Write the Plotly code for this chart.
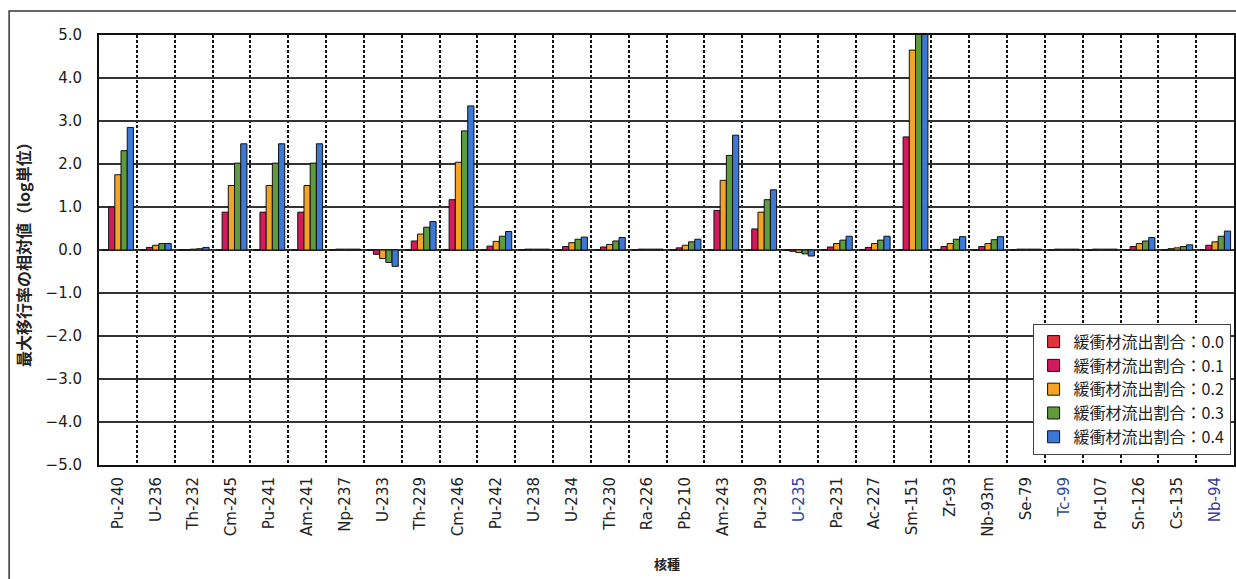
import plotly.graph_objects as go

categories = ["Pu-240", "U-236", "Th-232", "Cm-245", "Pu-241", "Am-241", "Np-237", "U-233",
              "Th-229", "Cm-246", "Pu-242", "U-238", "U-234", "Th-230", "Ra-226", "Pb-210",
              "Am-243", "Pu-239", "U-235", "Pa-231", "Ac-227", "Sm-151", "Zr-93", "Nb-93m",
              "Se-79", "Tc-99", "Pd-107", "Sn-126", "Cs-135", "Nb-94"]

series_names = ["緩衝材流出割合：0.0", "緩衝材流出割合：0.1", "緩衝材流出割合：0.2",
                "緩衝材流出割合：0.3", "緩衝材流出割合：0.4"]

r00 = [0.0] * 30
r01 = [1.00, 0.06, 0.01, 0.88, 0.88, 0.88, 0.02, -0.10, 0.21, 1.17, 0.09, 0.02, 0.08, 0.07, 0.02,
       0.05, 0.92, 0.49, -0.03, 0.07, 0.06, 2.63, 0.08, 0.08, 0.02, 0.02, 0.02, 0.08, 0.03, 0.11]
r02 = [1.75, 0.11, 0.02, 1.50, 1.50, 1.50, 0.02, -0.20, 0.37, 2.04, 0.20, 0.02, 0.17, 0.13, 0.02,
       0.11, 1.62, 0.88, -0.06, 0.15, 0.15, 4.65, 0.15, 0.15, 0.02, 0.02, 0.02, 0.15, 0.05, 0.19]
r03 = [2.31, 0.15, 0.03, 2.02, 2.02, 2.02, 0.02, -0.29, 0.53, 2.77, 0.32, 0.02, 0.25, 0.21, 0.02,
       0.19, 2.20, 1.17, -0.09, 0.23, 0.23, 5.30, 0.25, 0.24, 0.02, 0.02, 0.02, 0.21, 0.08, 0.32]
r04 = [2.85, 0.15, 0.06, 2.47, 2.47, 2.47, 0.02, -0.38, 0.66, 3.35, 0.43, 0.02, 0.30, 0.29, 0.02,
       0.25, 2.67, 1.40, -0.14, 0.32, 0.32, 5.60, 0.31, 0.31, 0.02, 0.02, 0.02, 0.29, 0.12, 0.44]

colors = ["#e0323c", "#d41a5e", "#f5a327", "#5e9a3e", "#3c78d6"]
label_colors = {"U-235": "#2a44a8", "Tc-99": "#2f4a86", "Nb-94": "#3a3c96"}

tick_text = [f"<span style='color:{label_colors[c]}'>{c}</span>" if c in label_colors else c
             for c in categories]

FONT = "DejaVu Sans"
CJK = "Noto Sans CJK JP"

fig = go.Figure()
for name, vals, col in zip(series_names, [r00, r01, r02, r03, r04], colors):
    fig.add_trace(go.Bar(
        x=categories, y=vals, name=name,
        marker=dict(color=col, line=dict(color="#111111", width=1)),
    ))

fig.update_layout(
    width=1236, height=579,
    margin=dict(l=99, r=0, t=35, b=114),
    paper_bgcolor="white", plot_bgcolor="white",
    barmode="group", bargap=0.18, bargroupgap=0.0,
    font=dict(family=FONT, color="#222222"),
    showlegend=True,
    legend=dict(
        x=0.997, y=0.024, xanchor="right", yanchor="bottom",
        bgcolor="white", bordercolor="#444444", borderwidth=1,
        font=dict(family=CJK, size=16, color="#222222"),
        tracegroupgap=2, itemwidth=30,
    ),
    xaxis=dict(
        type="category", categoryorder="array", categoryarray=categories,
        tickmode="array", tickvals=categories, ticktext=tick_text,
        tickangle=-90, tickfont=dict(family=FONT, size=15, color="#222222"),
        tickson="boundaries", ticks="", ticklabelstandoff=4,
        showgrid=True, gridcolor="#111111", gridwidth=2, griddash="3px,2px",
        showline=True, linecolor="#111111", linewidth=2, mirror=True,
    ),
    yaxis=dict(
        range=[-5, 5], dtick=1, tick0=0, tickformat=".1f",
        tickfont=dict(family=FONT, size=15, color="#1a1a1a"),
        ticks="", ticklabelstandoff=12,
        showgrid=True, gridcolor="#333333", gridwidth=1.5,
        zeroline=True, zerolinecolor="#333333", zerolinewidth=1.5,
        showline=True, linecolor="#111111", linewidth=2, mirror=True,
    ),
    annotations=[
        dict(text="<b>最大移行率の相対値（log単位）</b>", xref="paper", yref="paper",
             x=-0.067, y=0.5, xanchor="center", yanchor="middle", textangle=-90,
             showarrow=False, font=dict(family=CJK, size=16, color="#222222")),
        dict(text="<b>核種</b>", xref="paper", yref="paper",
             x=0.5, y=-0.228, xanchor="center", yanchor="middle",
             showarrow=False, font=dict(family=CJK, size=13, color="#222222")),
    ],
    shapes=[
        dict(type="rect", xref="paper", yref="paper",
             x0=-0.0792, x1=1.05, y0=-0.35, y1=1.0558,
             line=dict(color="#333333", width=1.5), fillcolor="rgba(0,0,0,0)", layer="below"),
    ],
)

fig.write_html(
    "out.html",
    config={"displayModeBar": False},
    post_script="document.body.style.margin='0';document.body.style.overflow='hidden';",
)
